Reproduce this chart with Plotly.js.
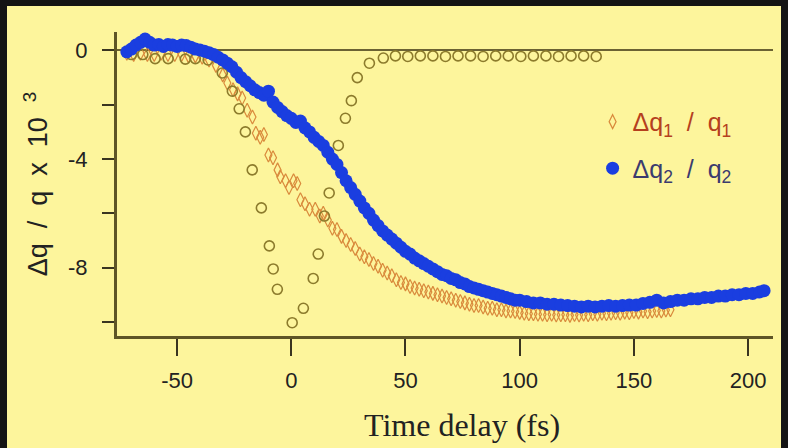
<!DOCTYPE html>
<html><head><meta charset="utf-8">
<script src="https://cdn.plot.ly/plotly-3.0.1.min.js"></script>
<style>
html,body{margin:0;padding:0;background:#141414;width:788px;height:448px;overflow:hidden}
#chart{position:absolute;left:7px;top:6px;width:774px;height:442px}
</style></head><body><div id="chart"></div>
<script>
// Δq2/q2 (filled blue circles)
const blueX = [-72,-70,-68,-66,-64,-62,-60,-58,-56,-54,
  -52,-50,-48,-46,-44,-42,-40,-38,-36,-34,
  -32,-30,-28,-26,-24,-22,-20,-18,-16,-14,
  -12,-10,-8,-6,-4,-2,0,2,4,6,
  8,10,12,14,16,18,20,22,24,26,
  28,30,32,34,36,38,40,42,44,46,
  48,50,52,54,56,58,60,62,64,66,
  68,70,72,74,76,78,80,82,84,86,
  88,90,92,94,96,98,100,
  103,106,109,112,115,118,121,124,127,130,
  133,136,139,142,145,148,151,154,157,160,
  163,166,169,172,175,178,181,184,187,190,
  193,196,199,202,205,207];
const blueY = [-0.05,0.05,0.2,0.3,0.42,0.3,0.2,0.22,0.15,0.22,
  0.2,0.15,0.2,0.18,0.12,0.05,0.02,-0.03,-0.08,-0.15,
  -0.25,-0.35,-0.47,-0.6,-0.8,-1.0,-1.15,-1.3,-1.45,-1.55,
  -1.65,-1.5,-1.9,-2.1,-2.25,-2.4,-2.5,-2.65,-2.6,-2.85,
  -3.0,-3.2,-3.35,-3.5,-3.75,-4.0,-4.2,-4.5,-4.8,-5.05,
  -5.3,-5.55,-5.8,-6.0,-6.25,-6.45,-6.65,-6.8,-6.95,-7.1,
  -7.25,-7.4,-7.5,-7.65,-7.75,-7.85,-7.95,-8.05,-8.15,-8.25,
  -8.3,-8.4,-8.45,-8.55,-8.6,-8.7,-8.75,-8.8,-8.85,-8.9,
  -8.95,-9.0,-9.05,-9.1,-9.15,-9.2,-9.2,
  -9.25,-9.3,-9.3,-9.35,-9.35,-9.38,-9.4,-9.42,-9.45,-9.42,
  -9.45,-9.42,-9.4,-9.42,-9.4,-9.38,-9.38,-9.32,-9.28,-9.2,
  -9.3,-9.25,-9.2,-9.2,-9.15,-9.15,-9.1,-9.1,-9.05,-9.05,
  -9.0,-9.0,-8.95,-8.95,-8.9,-8.85];

// Δq1/q1 (open orange diamonds)
const orangeX = [-72,-69,-66,-63,-60,-57,-54,-51,-48,-45,
  -42,-39,-36,-33,-30,-28,-25.5,-23.5,-21.5,-19.3,
  -17,-15.5,-13.6,-12,-10,-8,-6,-4.8,-2.5,-1,
  1,2.6,4,6,8,10.5,12.5,14,16,18,
  20,22,24,26,28,30,32,34,36,38,
  40,42,44,46,48,50,52,54,56,58,
  60,62,64,66,68,70,72,74,76,78,
  80,82,84,86,88,90,92,94,96,98,
  100,102,104,106,108,110,112,114,116,118,
  120,122,124,126,128,130,132,134,136,138,
  140,142,144,146,148,150,152,154,156,158,
  160,162,164,166];
const orangeY = [-0.1,-0.15,-0.1,-0.15,-0.15,-0.1,-0.15,-0.15,-0.15,-0.2,
  -0.2,-0.25,-0.35,-0.55,-0.9,-1.2,-1.45,-1.6,-1.75,-2.2,
  -2.45,-3.05,-3.2,-3.1,-3.85,-3.95,-4.4,-4.65,-4.8,-5.05,
  -4.8,-4.9,-5.5,-5.65,-5.85,-5.85,-6.1,-6.0,-6.25,-6.55,
  -6.6,-6.85,-7.0,-7.15,-7.3,-7.5,-7.6,-7.7,-7.85,-7.95,
  -8.1,-8.2,-8.3,-8.45,-8.55,-8.6,-8.7,-8.75,-8.8,-8.85,
  -8.9,-8.95,-9.0,-9.05,-9.1,-9.15,-9.2,-9.25,-9.3,-9.35,
  -9.4,-9.4,-9.45,-9.5,-9.5,-9.55,-9.55,-9.6,-9.6,-9.62,
  -9.65,-9.68,-9.7,-9.7,-9.72,-9.72,-9.74,-9.72,-9.75,-9.74,
  -9.74,-9.76,-9.73,-9.75,-9.72,-9.74,-9.7,-9.72,-9.68,-9.7,
  -9.68,-9.66,-9.68,-9.64,-9.66,-9.62,-9.64,-9.6,-9.63,-9.6,
  -9.58,-9.6,-9.56,-9.55];

// unlabelled reference series (open olive circles)
const oliveX = [-70,-65,-59.6,-53.9,-46.4,-42,-36.4,
  -30.2,-25.8,-22.8,-20.1,-17.1,-13.1,-9.6,-7.9,-6.1,
  0.4,5.3,9.6,11.8,14.5,16.6,20.6,23.7,26.3,28.9,
  34.2,40.3,45.6,
  51,56.5,62,67.5,73,78.5,84,89.5,95,100.5,
  106,111.5,117,122.5,128,133.5];
const oliveY = [-0.15,-0.15,-0.3,-0.3,-0.32,-0.3,-0.35,
  -0.83,-1.5,-2.15,-3.0,-4.4,-5.8,-7.2,-8.05,-8.8,
  -10.03,-9.5,-8.4,-7.5,-6.1,-5.25,-3.5,-2.5,-1.85,-1.0,
  -0.47,-0.28,-0.2,
  -0.22,-0.2,-0.2,-0.22,-0.2,-0.2,-0.22,-0.2,-0.2,-0.22,
  -0.2,-0.2,-0.22,-0.2,-0.2,-0.22];

const xTickVals = [-50,0,50,100,150,200];
const xTickText = ['-50','0','50','100','150','200'];
const yTickVals = [0,-4,-8];
const yTickText = ['0','-4','-8'];
const yMinorVals = [-2,-6,-10];

const sp = '\u00a0';
const name1 = '<span style="color:#b5401e">Δq<sub>1</sub>'+sp+sp+'/'+sp+sp+'q<sub>1</sub></span>';
const name2 = '<span style="color:#3b3b6e">Δq<sub>2</sub>'+sp+sp+'/'+sp+sp+'q<sub>2</sub></span>';
const yTitle = 'Δq'+sp+sp+'/'+sp+sp+'q'+sp+sp+'x'+sp+sp+'10'+sp+sp+'<sup>3</sup>';
const xTitle = 'Time delay (fs)';

const traces = [
  {x: orangeX, y: orangeY, type:'scatter', mode:'markers', name:name1, legendgroup:'a',
   marker:{symbol:'diamond-tall-open', size:10, color:'#d98a3c', line:{width:1.2, color:'#d98a3c'}}},
  {x: oliveX, y: oliveY, type:'scatter', mode:'markers', showlegend:false,
   marker:{symbol:'circle-open', size:10, color:'#8c7b2c', line:{width:1.6, color:'#8c7b2c'}}},
  {x: blueX, y: blueY, type:'scatter', mode:'markers', name:name2, legendgroup:'b',
   marker:{symbol:'circle', size:13, color:'#1a3ee0'}}
];

const tickFont = {family:'Liberation Sans, Arial, sans-serif', size:22, color:'#222'};
const tickCol = '#3a3520';
const layout = {
  width:774, height:442,
  paper_bgcolor:'#fdf59c', plot_bgcolor:'#fdf59c',
  margin:{l:110, r:8, t:26, b:112},
  showlegend:true,
  xaxis:{range:[-76.3,210.9], showline:true, linecolor:'#5e5526', linewidth:3,
    ticks:'outside', ticklen:17, tickwidth:2, tickcolor:tickCol,
    tickvals:xTickVals, ticktext:xTickText, tickfont:tickFont, ticklabelstandoff:6,
    showgrid:false, zeroline:false, automargin:false},
  yaxis:{range:[-10.52,0.68], showline:true, linecolor:'#5e5526', linewidth:3,
    ticks:'outside', ticklen:12, tickwidth:2, tickcolor:tickCol,
    tickvals:yTickVals, ticktext:yTickText, tickfont:tickFont, ticklabelstandoff:10,
    minor:{tickvals:yMinorVals, ticks:'outside', ticklen:12, tickwidth:2, tickcolor:tickCol, showgrid:false},
    showgrid:false, zeroline:true, zerolinecolor:'#6b6233', zerolinewidth:2, automargin:false,
    title:{text:yTitle, font:{family:'Liberation Sans, Arial, sans-serif', size:27, color:'#222'}, standoff:13}},
  annotations:[{text:xTitle, xref:'paper', yref:'paper', x:0.526, y:-0.293,
    xanchor:'center', yanchor:'middle', showarrow:false,
    font:{family:'Liberation Serif, Times New Roman, serif', size:32, color:'#222'}}],
  legend:{x:0.725, y:0.78, xanchor:'left', yanchor:'top', bgcolor:'rgba(0,0,0,0)',
    font:{family:'Liberation Sans, Arial, sans-serif', size:25, color:'#333'},
    traceorder:'grouped', tracegroupgap:11, itemsizing:'trace'}
};

Plotly.newPlot('chart', traces, layout, {displayModeBar:false, staticPlot:true});
</script>
</body></html>
